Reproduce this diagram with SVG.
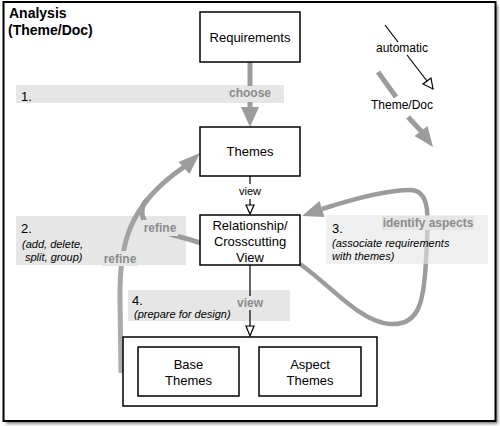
<svg xmlns="http://www.w3.org/2000/svg" width="500" height="426" viewBox="0 0 500 426">
<style>
text{font-family:"Liberation Sans",Arial,sans-serif;fill:#000}
.box{fill:#fff;stroke:#000;stroke-width:1.5}
.band{fill:#e6e6e6}
.lbl{font-size:13px}
.gl{font-size:12px;font-weight:bold;fill:#8c8c8c}
.it{font-size:11px;font-style:italic}
.num{font-size:13px}
.garrow{fill:none;stroke:#9c9c9c;stroke-width:5;stroke-linecap:butt}
.ghead{fill:#9c9c9c}
.thin{fill:none;stroke:#000;stroke-width:1.2}
.ohead{fill:#fff;stroke:#000;stroke-width:1.2}
</style>
<defs>
<filter id="sh" x="-5%" y="-5%" width="110%" height="110%">
<feGaussianBlur stdDeviation="1.5"/>
</filter>
<linearGradient id="rg" x1="0" y1="1" x2="0" y2="0">
<stop offset="0" stop-color="#b0b0b0"/>
<stop offset="1" stop-color="#9c9c9c"/>
</linearGradient>
</defs>
<rect x="6" y="5" width="492" height="419" fill="#888" filter="url(#sh)"/>
<rect x="3.5" y="2" width="492" height="419" fill="#fff" stroke="#000" stroke-width="2"/>
<g id="title">
<text x="9" y="18" style="font-size:14px;font-weight:bold">Analysis</text>
<text x="8" y="35" style="font-size:14px;font-weight:bold">(Theme/Doc)</text>
</g>
<g id="bands">
<rect class="band" x="16" y="85" width="268" height="18"/>
<rect class="band" x="16" y="216" width="170" height="49"/>
<rect class="band" x="128" y="290" width="162" height="31"/>
</g>
<g id="connectors">
<!-- choose -->
<path class="garrow" d="M250,62 L250,108"/>
<polygon class="ghead" points="241,107 259,107 250,127"/>
<!-- refine main -->
<path class="garrow" style="stroke:url(#rg)" d="M121,373 L120,300 C119,245 128,205 184,167"/>
<polygon class="ghead" points="200,153 189.5,174 178.5,162"/>
<!-- refine from relationship -->
<path class="garrow" d="M201,243 C178,235 150,232 144,220 C140,212 142,204 148,199"/>
<!-- identify aspects loop -->
<path class="garrow" style="stroke-width:4.5" d="M300,264 C330,285 360,322 390,324 C420,326 424,300 426,260 C428,220 432,190 410,190 C385,190 350,200 322,209"/>
<polygon class="ghead" points="302,216 324.5,217 319.5,201"/>
<!-- view 1 -->
<path class="thin" d="M250,176 L250,184 M250,199 L250,205"/>
<polygon class="ohead" points="246,205 254,205 250,214"/>
<!-- view 2 -->
<path class="thin" d="M250,265 L250,298 M250,309 L250,326"/>
<polygon class="ohead" points="246,326 254,326 250,336"/>
</g>
<rect class="band" x="326" y="215" width="162" height="49" fill-opacity="0.6"/>
<g id="legend">
<path class="thin" d="M385,25 L398,42 M407,55 L427,81"/>
<polygon class="ohead" points="433,89 431,78 423,84"/>
<text x="402" y="52" text-anchor="middle" style="font-size:12px">automatic</text>
<path class="garrow" d="M378,72 L396,97 M408,117 L422,132"/>
<polygon class="ghead" points="433,147 427.5,126 414.5,136"/>
<text x="402" y="109" text-anchor="middle" style="font-size:12px">Theme/Doc</text>
</g>
<g id="labels">
<text class="num" x="21" y="101">1.</text>
<rect class="band" x="228" y="86" width="44" height="16"/>
<text class="gl" x="250" y="97" text-anchor="middle">choose</text>
<text class="num" x="21" y="233">2.</text>
<text class="it" x="22" y="248">(add, delete,</text>
<text class="it" x="25" y="261">split, group)</text>
<rect class="band" x="142" y="220" width="36" height="16"/>
<text class="gl" x="160" y="232" text-anchor="middle">refine</text>
<rect class="band" x="102" y="251" width="36" height="15"/>
<text class="gl" x="120" y="263" text-anchor="middle">refine</text>
<text class="num" x="332" y="233">3.</text>
<rect class="band" x="382" y="216" width="92" height="14"/>
<text class="gl" x="428" y="227" text-anchor="middle">identify aspects</text>
<text class="it" x="332" y="247">(associate requirements</text>
<text class="it" x="332" y="260">with themes)</text>
<text class="num" x="132" y="305">4.</text>
<text class="it" x="134" y="318">(prepare for design)</text>
<rect class="band" x="236" y="296" width="28" height="14"/>
<text class="gl" x="250" y="307" text-anchor="middle">view</text>
<rect x="238" y="185" width="24" height="13" fill="#fff"/>
<text x="250" y="195" text-anchor="middle" style="font-size:11px">view</text>
</g>
<g id="requirements">
<rect class="box" x="200" y="12" width="100" height="50"/>
<text class="lbl" x="250" y="42" text-anchor="middle">Requirements</text>
</g>
<g id="themes">
<rect class="box" x="200" y="127" width="100" height="49"/>
<text class="lbl" x="250" y="156" text-anchor="middle">Themes</text>
</g>
<g id="relationship">
<rect class="box" x="200" y="215" width="100" height="50"/>
<text class="lbl" x="250" y="230" text-anchor="middle">Relationship/</text>
<text class="lbl" x="250" y="246" text-anchor="middle">Crosscutting</text>
<text class="lbl" x="250" y="262" text-anchor="middle">View</text>
</g>
<g id="design">
<rect class="box" x="123" y="337" width="254" height="69"/>
</g>
<g id="base-themes">
<rect class="box" x="138" y="347" width="101" height="49"/>
<text class="lbl" x="188.5" y="369" text-anchor="middle">Base</text>
<text class="lbl" x="188.5" y="385" text-anchor="middle">Themes</text>
</g>
<g id="aspect-themes">
<rect class="box" x="259" y="347" width="102" height="49"/>
<text class="lbl" x="310" y="369" text-anchor="middle">Aspect</text>
<text class="lbl" x="310" y="385" text-anchor="middle">Themes</text>
</g>
</svg>
